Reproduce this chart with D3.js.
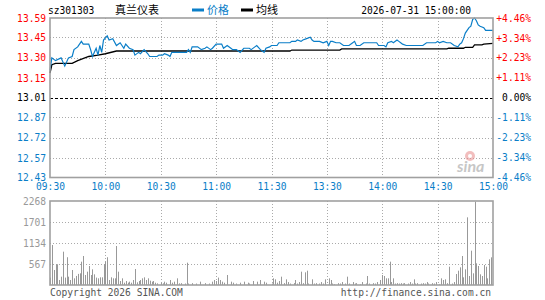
<!DOCTYPE html>
<html>
<head>
<meta charset="utf-8">
<script src="https://cdn.jsdelivr.net/npm/d3@7/dist/d3.min.js"></script>
<style>
  body { margin: 0; background: #fff; }
  svg { display: block; }
  text { font-family: "DejaVu Sans Mono", monospace; font-size: 9.6px; }
</style>
</head>
<body>
<script>
// stock
var code = 'sz301303'
var stockName = '真兰仪表'
var stamp = '2026-07-31 15:00:00'
var prevClose = 13.01

// ticks
var priceTicks = [13.59, 13.45, 13.30, 13.15, 13.01, 12.87, 12.72, 12.57, 12.43]
var pctTicks = ['+4.46%', '+3.34%', '+2.23%', '+1.11%', '0.00%', '-1.11%', '-2.23%', '-3.34%', '-4.46%']
var timeIdx = [0, 30, 60, 90, 120, 150, 180, 210, 240]
var timeLabels = ['09:30', '10:00', '10:30', '11:00', '11:30', '13:30', '14:00', '14:30', '15:00']
var volTicks = [2268, 1701, 1134, 567]

// price line, minute index -> price
var priceIdx = [0, 1, 3, 6, 8, 10, 12, 13, 15, 17, 18, 21, 22, 23, 25, 26, 27, 28, 29, 31,
  32, 34, 36, 38, 40, 41, 43, 45, 46, 48, 49, 51, 53, 54, 58, 59, 61, 62, 64, 65,
  66, 74, 75, 76, 77, 80, 82, 84, 85, 87, 88, 90, 93, 94, 96, 98, 99, 101, 103, 105,
  108, 109, 111, 112, 114, 115, 116, 117, 119, 120, 123, 124, 130, 131, 133, 134, 136, 137, 139, 141,
  142, 143, 145, 146, 148, 150, 151, 152, 153, 155, 157, 159, 162, 164, 165, 166, 168, 170, 177, 178,
  181, 182, 183, 185, 186, 188, 189, 190, 191, 193, 195, 199, 202, 204, 208, 209, 210, 211, 213, 215,
  217, 219, 221, 222, 223, 224, 225, 226, 227, 228, 229, 230, 231, 232, 233, 235, 236, 239, 240]
var priceVal = [13.21, 13.30, 13.28, 13.30, 13.24, 13.30, 13.31, 13.36, 13.38, 13.42, 13.40, 13.40, 13.36, 13.31, 13.37, 13.32, 13.39, 13.34, 13.43, 13.46,
  13.43, 13.44, 13.39, 13.41, 13.37, 13.40, 13.37, 13.36, 13.32, 13.34, 13.33, 13.36, 13.33, 13.31, 13.31, 13.32, 13.32, 13.33, 13.32, 13.31,
  13.34, 13.34, 13.36, 13.34, 13.38, 13.38, 13.36, 13.37, 13.38, 13.36, 13.37, 13.40, 13.40, 13.37, 13.39, 13.37, 13.36, 13.36, 13.34, 13.37,
  13.37, 13.36, 13.38, 13.39, 13.36, 13.35, 13.34, 13.37, 13.38, 13.39, 13.39, 13.41, 13.41, 13.42, 13.42, 13.43, 13.42, 13.43, 13.44, 13.45,
  13.43, 13.42, 13.42, 13.42, 13.41, 13.42, 13.39, 13.42, 13.42, 13.41, 13.41, 13.39, 13.39, 13.41, 13.42, 13.39, 13.39, 13.41, 13.41, 13.39,
  13.39, 13.38, 13.41, 13.42, 13.41, 13.43, 13.42, 13.41, 13.40, 13.39, 13.39, 13.39, 13.39, 13.41, 13.41, 13.41, 13.42, 13.41, 13.42, 13.41,
  13.41, 13.39, 13.38, 13.40, 13.41, 13.44, 13.48, 13.50, 13.52, 13.53, 13.58, 13.59, 13.57, 13.54, 13.53, 13.52, 13.50, 13.50, 13.50]

// average line
var avgIdx = [0, 1, 3, 12, 15, 21, 26, 30, 36, 130, 131, 157, 158, 215, 216, 224, 225, 229, 230, 234, 235, 240]
var avgVal = [13.19, 13.25, 13.26, 13.26, 13.28, 13.31, 13.32, 13.33, 13.35, 13.35, 13.357, 13.357, 13.365, 13.365, 13.37, 13.37, 13.377, 13.377, 13.394, 13.394, 13.40, 13.406]

// volume bars
var volIdx = [0, 1, 2, 3, 4, 5, 6, 7, 8, 9, 10, 11, 12, 13, 14, 15, 16, 17, 18, 19,
  20, 21, 22, 23, 24, 25, 26, 27, 28, 29, 30, 31, 32, 33, 34, 35, 36, 37, 38, 39,
  40, 41, 42, 43, 44, 45, 46, 47, 48, 49, 50, 51, 52, 53, 54, 55, 56, 57, 58, 60,
  61, 62, 63, 65, 66, 67, 69, 70, 71, 73, 74, 75, 77, 79, 81, 84, 86, 88, 89, 90,
  91, 92, 93, 94, 96, 98, 99, 101, 103, 105, 107, 108, 110, 112, 114, 116, 117, 120, 121, 122,
  123, 124, 125, 127, 128, 129, 130, 132, 133, 134, 135, 136, 137, 138, 139, 140, 142, 143, 144, 146,
  147, 148, 149, 151, 152, 153, 154, 156, 157, 158, 160, 161, 162, 164, 165, 166, 168, 169, 171, 172,
  173, 175, 176, 177, 179, 180, 181, 182, 183, 184, 185, 186, 187, 188, 189, 190, 191, 192, 194, 195,
  196, 197, 198, 199, 201, 202, 203, 204, 205, 207, 208, 209, 211, 212, 213, 214, 215, 216, 218, 219,
  220, 221, 222, 223, 224, 225, 226, 227, 228, 229, 230, 231, 232, 233, 234, 235, 236, 237, 238, 239]
var volVal = [200, 1080, 405, 560, 560, 135, 225, 900, 200, 750, 225, 135, 405, 180, 245, 300, 315, 630, 783, 270,
  360, 513, 270, 423, 288, 200, 180, 207, 207, 560, 630, 750, 135, 207, 180, 180, 1053, 360, 108, 180,
  63, 108, 63, 90, 63, 135, 432, 72, 108, 135, 180, 207, 135, 180, 117, 90, 108, 63, 45, 63,
  45, 90, 63, 135, 63, 90, 180, 45, 50, 40, 603, 40, 50, 40, 90, 50, 40, 90, 135, 108,
  200, 135, 90, 63, 270, 90, 63, 40, 63, 90, 63, 40, 108, 90, 135, 90, 63, 40, 180, 153,
  63, 108, 225, 50, 153, 80, 40, 50, 135, 40, 80, 360, 50, 342, 387, 40, 153, 40, 50, 40,
  80, 40, 153, 180, 135, 40, 20, 50, 40, 80, 40, 225, 40, 80, 40, 50, 20, 80, 40, 243,
  40, 50, 40, 80, 135, 270, 243, 180, 180, 630, 80, 180, 40, 50, 40, 50, 40, 50, 40, 80,
  40, 153, 40, 50, 40, 50, 40, 80, 40, 50, 40, 80, 20, 180, 135, 153, 50, 495, 40, 80,
  297, 387, 477, 783, 207, 423, 1827, 243, 927, 315, 2250, 585, 513, 288, 243, 540, 495, 180, 693, 747]

var W = 545
var H = 300
var blue = '#0a7ec8'
var red = '#ff0000'
var gridColor = '#aaaaaa'
var frameColor = '#a0a0a0'

var svg = d3.select('body').append('svg').attr('width', W).attr('height', H)

var x = d3.scaleLinear().domain([0, 240]).range([50, 493])
var y = d3.scaleLinear().domain([priceTicks[priceTicks.length - 1], priceTicks[0]]).range([177.5, 18])
var yPct = d3.scalePoint().domain(pctTicks).range([18, 177.5])
var yv = d3.scaleLinear().domain([0, volTicks[0]]).range([285, 201])

function tickColor (v) {
  if (v > prevClose) return red
  if (v < prevClose) return blue
  return '#000'
}

// header
svg.append('text').attr('x', 48).attr('y', 14).text(code)
svg.append('text').attr('x', 115).attr('y', 14).style('font-family', '"Noto Sans CJK SC"').style('font-size', '11px').text(stockName)
svg.append('line').attr('x1', 192).attr('x2', 204).attr('y1', 10).attr('y2', 10).attr('stroke', blue).attr('stroke-width', 3)
svg.append('text').attr('x', 207).attr('y', 14).style('font-family', '"Noto Sans CJK SC"').style('font-size', '11px').attr('fill', blue).text('价格')
svg.append('line').attr('x1', 241).attr('x2', 253).attr('y1', 10).attr('y2', 10).attr('stroke', '#000').attr('stroke-width', 3)
svg.append('text').attr('x', 256).attr('y', 14).style('font-family', '"Noto Sans CJK SC"').style('font-size', '11px').text('均线')
svg.append('text').attr('x', 471).attr('y', 14).attr('text-anchor', 'end').text(stamp)

// grid, price panel
var grid = svg.append('g')
priceTicks.slice(1, -1).forEach(function (v) {
  var zero = v === prevClose
  grid.append('line').attr('x1', x(0)).attr('x2', x(240)).attr('y1', Math.round(y(v)) + 0.5).attr('y2', Math.round(y(v)) + 0.5)
    .attr('stroke', zero ? '#000' : gridColor).attr('stroke-dasharray', zero ? '3,2' : '1,2')
})
timeIdx.slice(1, -1).forEach(function (i) {
  grid.append('line').attr('x1', Math.round(x(i)) + 0.5).attr('x2', Math.round(x(i)) + 0.5).attr('y1', 18).attr('y2', 177.5)
    .attr('stroke', gridColor).attr('stroke-dasharray', '1,2')
  grid.append('line').attr('x1', Math.round(x(i)) + 0.5).attr('x2', Math.round(x(i)) + 0.5).attr('y1', 201).attr('y2', 285)
    .attr('stroke', gridColor).attr('stroke-dasharray', '1,2')
})
volTicks.slice(1).forEach(function (v) {
  grid.append('line').attr('x1', x(0)).attr('x2', x(240)).attr('y1', Math.round(yv(v)) + 0.5).attr('y2', Math.round(yv(v)) + 0.5)
    .attr('stroke', gridColor).attr('stroke-dasharray', '1,2')
})

// watermark
var wm = svg.append('g').attr('opacity', 0.55)
wm.append('circle').attr('cx', 470).attr('cy', 156).attr('r', 5).attr('fill', '#e88a8a')
wm.append('circle').attr('cx', 470).attr('cy', 156).attr('r', 2).attr('fill', '#fff')
wm.append('text').attr('x', 457).attr('y', 172).style('font-family', 'Lato, sans-serif').style('font-size', '16px')
  .style('font-weight', 'bold').style('font-style', 'italic').attr('fill', '#999').text('sina')

// volume bars
svg.append('g').selectAll('rect').data(volIdx).join('rect')
  .attr('x', function (d) { return Math.round(x(d)) })
  .attr('width', 1)
  .attr('y', function (d, k) { return yv(volVal[k]) })
  .attr('height', function (d, k) { return yv(0) - yv(volVal[k]) })
  .attr('fill', '#999')

// lines
var avgLine = d3.line().x(function (d) { return x(d) }).y(function (d, k) { return y(avgVal[k]) })
svg.append('path').attr('d', avgLine(avgIdx)).attr('fill', 'none').attr('stroke', '#000').attr('stroke-width', 1.3)
var priceLine = d3.line().x(function (d) { return x(d) }).y(function (d, k) { return y(priceVal[k]) })
svg.append('path').attr('d', priceLine(priceIdx)).attr('fill', 'none').attr('stroke', blue).attr('stroke-width', 1.2)

// frames
svg.append('rect').attr('x', 50).attr('y', 18).attr('width', 443).attr('height', 159.5)
  .attr('fill', 'none').attr('stroke', frameColor).attr('stroke-width', 1.6)
svg.append('rect').attr('x', 50).attr('y', 201).attr('width', 443).attr('height', 84)
  .attr('fill', 'none').attr('stroke', frameColor).attr('stroke-width', 1.6)

// axes
var axL = svg.append('g').attr('transform', 'translate(46,0)')
  .call(d3.axisLeft(y).tickValues(priceTicks).tickSize(0).tickPadding(0).tickFormat(d3.format('.2f')))
axL.select('.domain').remove()
axL.selectAll('text').style('font-family', '"DejaVu Sans Mono", monospace').style('font-size', '9.6px')
  .attr('fill', function (d) { return tickColor(d) })

var axR = svg.append('g').attr('transform', 'translate(531,0)')
  .call(d3.axisLeft(yPct).tickSize(0).tickPadding(0))
axR.select('.domain').remove()
axR.selectAll('text').style('font-family', '"DejaVu Sans Mono", monospace').style('font-size', '9.6px')
  .attr('fill', function (d, k) { return tickColor(priceTicks[k]) })

var axB = svg.append('g').attr('transform', 'translate(0,183)')
  .call(d3.axisBottom(x).tickValues(timeIdx).tickSize(0).tickPadding(0).tickFormat(function (d, k) { return timeLabels[k] }))
axB.select('.domain').remove()
axB.selectAll('text').style('font-family', '"DejaVu Sans Mono", monospace').style('font-size', '9.6px').attr('fill', blue)

var axV = svg.append('g').attr('transform', 'translate(46,0)')
  .call(d3.axisLeft(yv).tickValues(volTicks).tickSize(0).tickPadding(0).tickFormat(d3.format('d')))
axV.select('.domain').remove()
axV.selectAll('text').style('font-family', '"DejaVu Sans Mono", monospace').style('font-size', '9.6px').attr('fill', '#999')

// footer
svg.append('text').attr('x', 50).attr('y', 296).attr('fill', '#555').text('Copyright 2026 SINA.COM')
svg.append('text').attr('x', 491).attr('y', 296).attr('text-anchor', 'end').attr('fill', '#555').text('http://finance.sina.com.cn')
</script>
</body>
</html>
